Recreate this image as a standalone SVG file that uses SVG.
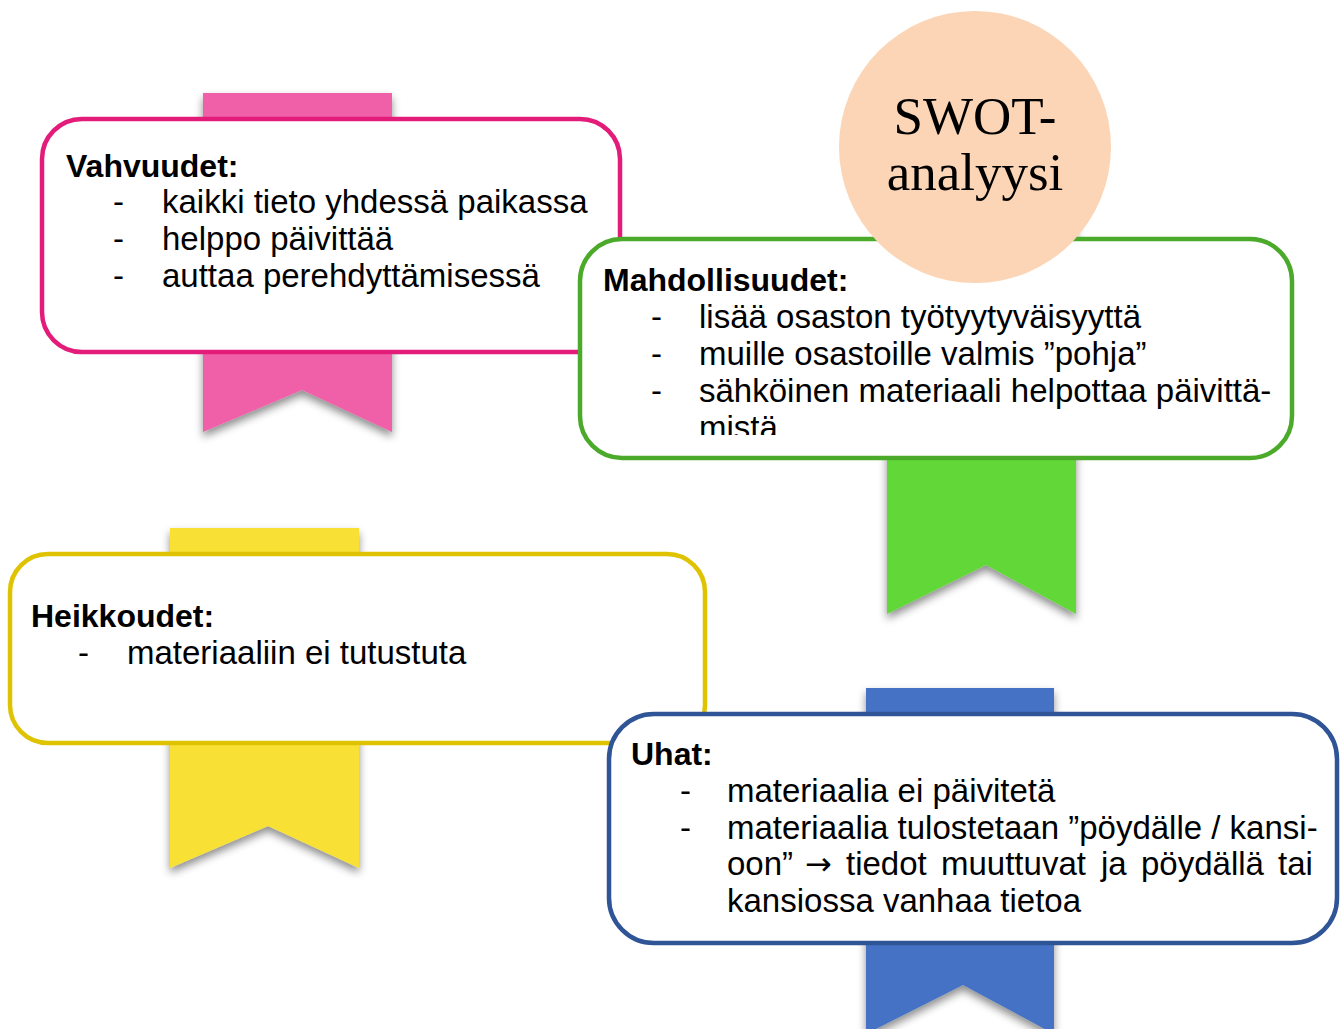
<svg xmlns="http://www.w3.org/2000/svg" width="1344" height="1029" viewBox="0 0 1344 1029">
<defs>
<filter id="sh" x="-20%" y="-20%" width="140%" height="140%">
<feDropShadow dx="0" dy="5" stdDeviation="4" flood-color="#000" flood-opacity="0.45"/>
</filter>
<clipPath id="gclip"><rect x="580" y="239" width="712" height="196"/></clipPath>
</defs>
<style>
.box{fill:#fff;stroke-width:4.5}
.t{font-family:"Liberation Sans",Arial,sans-serif;font-size:33px;fill:#000}
.b{font-family:"Liberation Sans",Arial,sans-serif;font-size:32px;font-weight:bold;fill:#000}
.arr{font-family:"DejaVu Sans",sans-serif;font-size:32px}
.swot{font-family:"Liberation Serif","Times New Roman",serif;font-size:53px;fill:#000;text-anchor:middle}
</style>
<rect width="1344" height="1029" fill="#fff"/>

<g id="vahvuudet">
<polygon points="203,93 392,93 392,432 302,390 203,432" fill="#f060a8" filter="url(#sh)"/>
<rect class="box" x="42" y="119" width="578" height="233" rx="40" stroke="#e31c79"/>
<text class="b" x="66" y="177">Vahvuudet:</text>
<text class="t" x="113" y="213">-</text><text class="t" x="162" y="213">kaikki tieto yhdessä paikassa</text>
<text class="t" x="113" y="250">-</text><text class="t" x="162" y="250">helppo päivittää</text>
<text class="t" x="113" y="287">-</text><text class="t" x="162" y="287">auttaa perehdyttämisessä</text>
</g>

<g id="mahdollisuudet">
<polygon points="887,200 1076,200 1076,614 986,565 887,614" fill="#62d837" filter="url(#sh)"/>
<rect class="box" x="580" y="239" width="712" height="219" rx="42" stroke="#4caa2b"/>
<g clip-path="url(#gclip)">
<text class="b" x="603" y="291">Mahdollisuudet:</text>
<text class="t" x="651" y="328">-</text><text class="t" x="699" y="328">lisää osaston työtyytyväisyyttä</text>
<text class="t" x="651" y="365">-</text><text class="t" x="699" y="365">muille osastoille valmis ”pohja”</text>
<text class="t" x="651" y="402">-</text><text class="t" x="699" y="402">sähköinen materiaali helpottaa päivittä-</text>
<text class="t" x="699" y="439">mistä</text>
</g>
</g>

<g id="swot">
<circle cx="975" cy="147" r="136" fill="#fbd5b5"/>
<text class="swot" x="975" y="134">SWOT-</text>
<text class="swot" x="975" y="190">analyysi</text>
</g>

<g id="heikkoudet">
<polygon points="170,528 359,528 359,868 268,826 170,868" fill="#f9e035" filter="url(#sh)"/>
<rect class="box" x="10" y="554" width="695" height="189" rx="38" stroke="#dfc300"/>
<text class="b" x="31" y="627">Heikkoudet:</text>
<text class="t" x="78" y="664">-</text><text class="t" x="127" y="664">materiaaliin ei tutustuta</text>
</g>

<g id="uhat">
<polygon points="866,688 1054,688 1054,1034 963,985 866,1034" fill="#4472c4" filter="url(#sh)"/>
<rect class="box" x="609" y="714" width="728" height="229" rx="45" stroke="#2f5597" stroke-width="2.5"/>
<text class="b" x="631" y="765">Uhat:</text>
<text class="t" x="680" y="802">-</text><text class="t" x="727" y="802">materiaalia ei päivitetä</text>
<text class="t" x="680" y="839">-</text><text class="t" x="727" y="839">materiaalia tulostetaan ”pöydälle / kansi-</text>
<text class="t" y="875"><tspan x="727">oon”</tspan><tspan class="arr" x="805">→</tspan><tspan x="846">tiedot</tspan><tspan x="941">muuttuvat</tspan><tspan x="1101">ja</tspan><tspan x="1141">pöydällä</tspan><tspan x="1278">tai</tspan></text>
<text class="t" x="727" y="912">kansiossa vanhaa tietoa</text>
</g>
</svg>
